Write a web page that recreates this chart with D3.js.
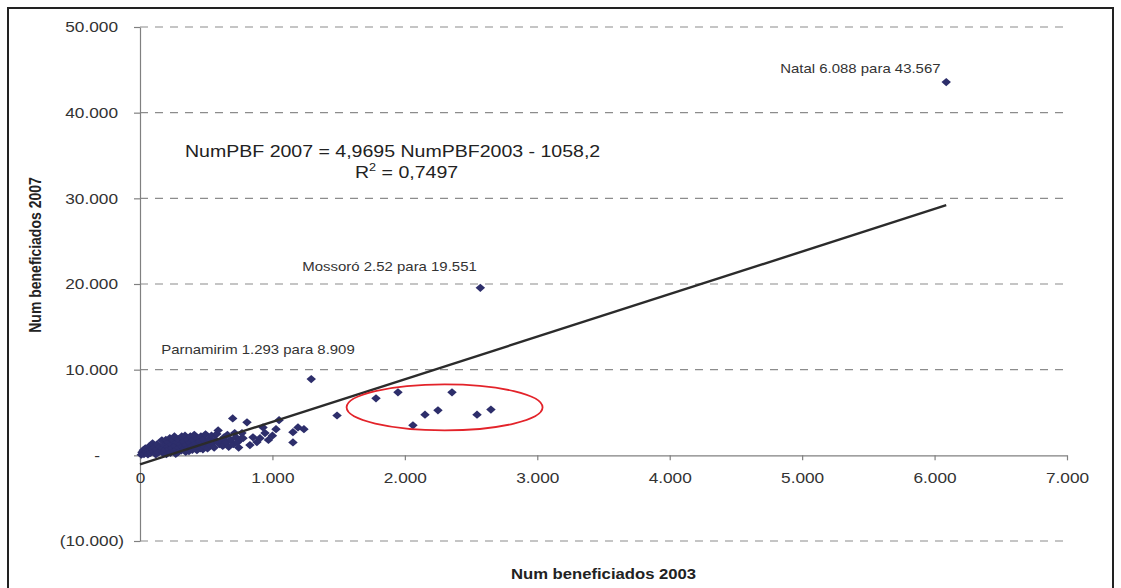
<!DOCTYPE html>
<html><head><meta charset="utf-8">
<script src="https://cdn.jsdelivr.net/npm/d3@7"></script>
<style>
body{margin:0;background:#fff}
svg{display:block}
text{font-family:"Liberation Sans",Arial,Helvetica,sans-serif}
</style>
</head><body>
<svg id="chart" width="1121" height="588"></svg>
<script>
// ---------------- DATA ----------------
const benef2003 = [
  10,15,25,30,40,50,55,60,65,70,80,90,95,100,110,115,120,125,130,140,150,
  160,165,170,175,185,190,195,200,210,215,220,225,230,240,245,250,255,260,265,270,275,280,285,290,295,
  305,310,315,320,330,335,340,345,350,360,365,370,375,380,390,395,400,410,415,420,430,435,440,450,455,460,470,475,480,490,495,500,
  510,520,530,540,550,560,570,580,590,600,610,625,635,650,660,670,685,700,705,715,725,735,745,760,770,
  778,808,830,853,883,906,929,944,970,1000,1027,1050,1155,1155,1193,1238,
  1293,1488,1782,1948,2061,2152,2250,2356,2545,2650,2570,6088
];
const benef2007 = [
  80,350,600,150,800,400,250,100,1000,550,300,750,1400,450,900,200,120,650,1300,350,1000,
  550,1750,800,250,1200,650,1800,150,1000,1550,700,2000,300,1250,850,1750,500,2200,1100,180,650,1500,350,1900,900,
  1300,550,2200,1000,1600,750,2300,400,1200,1850,850,500,1450,2200,1050,650,1750,2400,900,1350,600,2000,1150,1600,800,2200,1300,700,1850,1000,2450,1400,
  800,1900,1200,2300,1500,900,1800,2500,2900,1300,1700,1100,2100,1500,2400,1000,1800,4300,1300,2600,2100,1500,900,1900,2600,
  2000,3850,1200,2100,1550,2000,3250,2600,1800,2300,3050,4100,2700,1500,3250,3050,
  8909,4650,6650,7350,3500,4750,5250,7350,4750,5350,19551,43567
];
const destaqueNomes = ["Natal 6.088 para 43.567", "Mossoró 2.52 para 19.551", "Parnamirim 1.293 para 8.909"];
const destaqueX = [6088, 2570, 1293];
const destaqueY = [43567, 19551, 8909];
const trendSlope = 4.9695;
const trendIntercept = -1058.2;
const trendText = "NumPBF 2007 = 4,9695 NumPBF2003 - 1058,2";
const r2Text = "0,7497";
const xTicks = [0,1000,2000,3000,4000,5000,6000,7000];
const yTicks = [-10000,0,10000,20000,30000,40000,50000];
const xTitle = "Num beneficiados 2003";
const yTitle = "Num beneficiados 2007";

// ---------------- CHART ----------------
const S = 1.15; // horizontal stretch of the original picture
const svg = d3.select("#chart");
const M = {left:140, right:1067, top:27, bottom:541};
const x = d3.scaleLinear().domain([0,7000]).range([M.left, M.right]);
const y = d3.scaleLinear().domain([-10000,50000]).range([M.bottom, M.top]);

const loc = d3.formatLocale({decimal:",", thousands:".", grouping:[3], currency:["",""]});
const f = loc.format(",.0f");
const yFmt = v => v === 0 ? "-" : (v < 0 ? "(" + f(-v) + ")" : f(v));

// outer frame
svg.append("rect").attr("x",8).attr("y",8).attr("width",1105).attr("height",600)
  .attr("fill","none").attr("stroke","#222").attr("stroke-width",2);

// gridlines
svg.append("g").selectAll("line").data(yTicks.filter(d=>d!==0)).join("line")
  .attr("x1",M.left).attr("x2",M.right)
  .attr("y1",d=>y(d)).attr("y2",d=>y(d))
  .attr("stroke","#8c8c8c").attr("stroke-width",1.2).attr("stroke-dasharray","8,7");

// y axis
const gy = svg.append("g").attr("transform",`translate(${x(0)},0)`)
  .call(d3.axisLeft(y).tickValues(yTicks).tickSize(6).tickSizeOuter(0).tickFormat(yFmt));
gy.select(".domain").attr("stroke","#808080").attr("stroke-width",1.2);
gy.selectAll(".tick line").attr("stroke","#808080").attr("stroke-width",1.2);
gy.selectAll(".tick text")
  .attr("font-size",15).attr("fill","#333").attr("font-family",null)
  .attr("dy","0.33em")
  .attr("text-anchor", d => d===0 ? "middle" : "end")
  .attr("x", d => (d===0 ? -43 : (d<0 ? -16 : -22))/S)
  .attr("transform",`scale(${S},1)`);

// x axis
const gx = svg.append("g").attr("transform",`translate(0,${y(0)})`)
  .call(d3.axisBottom(x).tickValues(xTicks).tickSize(5).tickSizeOuter(0).tickFormat(f));
gx.select(".domain").attr("stroke","#808080").attr("stroke-width",1.2);
gx.selectAll(".tick line").attr("stroke","#808080").attr("stroke-width",1.2);
gx.selectAll(".tick text")
  .attr("font-size",15).attr("fill","#333").attr("font-family",null)
  .attr("y",28).attr("dy",0)
  .attr("transform",`scale(${S},1)`);

// points
svg.append("g").selectAll("path").data(benef2003.map((d,i)=>[d,benef2007[i]])).join("path")
  .attr("d", d3.symbol(d3.symbolSquare, 34)())
  .attr("transform", d => `translate(${x(d[0])},${y(d[1])}) scale(${S},1) rotate(45)`)
  .attr("fill","#2d2e6b");

// trend line
const tx = [0, d3.max(benef2003)];
svg.append("line")
  .attr("x1",x(tx[0])).attr("y1",y(trendSlope*tx[0]+trendIntercept))
  .attr("x2",x(tx[1])).attr("y2",y(trendSlope*tx[1]+trendIntercept))
  .attr("stroke","#2b2b2b").attr("stroke-width",2.4);

// red ellipse highlight
svg.append("ellipse")
  .attr("cx",x(2300)).attr("cy",y(5600))
  .attr("rx",x(740)-x(0)).attr("ry",y(0)-y(2680))
  .attr("fill","none").attr("stroke","#e3232a").attr("stroke-width",1.8);

function stext(px, py, str, size, opts={}) {
  const t = svg.append("text")
    .attr("transform",`translate(${px},${py}) ${opts.rotate?`scale(${S},1) rotate(-90)`:`scale(${S},1)`}`)
    .attr("font-size",size).attr("fill",opts.fill||"#333")
    .attr("font-weight",opts.bold?"bold":"normal")
    .attr("text-anchor",opts.anchor||"start")
    .text(str);
  return t;
}

// point labels
const labOff = [[-166,-9],[-178,-17],[-150,-25]];
destaqueNomes.forEach((n,i)=>{
  stext(x(destaqueX[i])+labOff[i][0], y(destaqueY[i])+labOff[i][1], n, 13);
});

// trend equation
stext(185, 157, trendText, 17, {fill:"#222"});
const r2 = stext(355, 178, "", 17, {fill:"#222"});
r2.append("tspan").text("R");
r2.append("tspan").attr("dy",-7).attr("font-size",11).text("2");
r2.append("tspan").attr("dy",7).text(" = " + r2Text);

// axis titles
stext((M.left+M.right)/2, 579, xTitle, 14.5, {bold:true, anchor:"middle", fill:"#222"});
stext(41, (M.top+M.bottom)/2 - 29, yTitle, 14, {bold:true, anchor:"middle", rotate:true, fill:"#222"});
</script>
</body></html>
